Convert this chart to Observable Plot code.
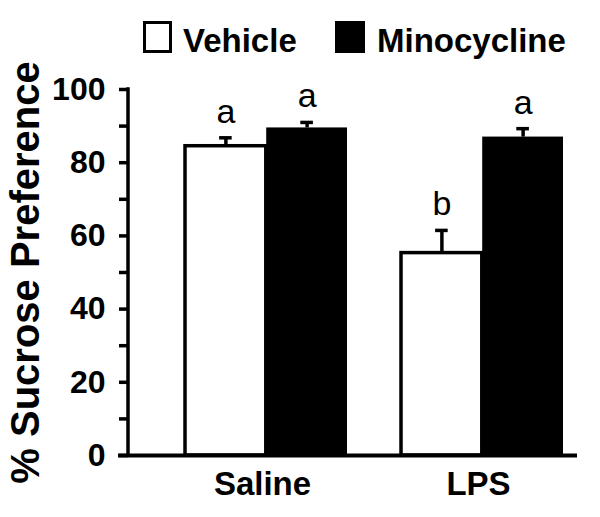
<!DOCTYPE html>
<html>
<head>
<meta charset="utf-8">
<script src="https://cdn.jsdelivr.net/npm/d3@7"></script>
<script src="https://cdn.jsdelivr.net/npm/@observablehq/plot@0.6"></script>
<style>
  html, body { margin: 0; padding: 0; background: white; }
  body { width: 600px; height: 517px; overflow: hidden; font-family: "Liberation Sans", Arial, sans-serif; }
  #legend { position: relative; width: 600px; height: 62px; }
  #legend .sw { position: absolute; box-sizing: border-box; border: 3.5px solid black; }
  #legend .lb { position: absolute; font-size: 33px; font-weight: bold; line-height: 33px; white-space: nowrap; color: black; }
  #chart svg { display: block; }
</style>
</head>
<body>
<div id="legend"></div>
<div id="chart"></div>
<script>
// ---- data ----
const groups = ["Saline", "LPS"];
const treatments = ["Vehicle", "Minocycline"];
const treatmentFill = ["white", "black"];
const vehicleMean = [84.5, 55.3];
const vehicleSem = [2.3, 6.2];
const minocyclineMean = [89.5, 87.0];
const minocyclineSem = [1.5, 2.3];
const vehicleLetters = ["a", "b"];
const minocyclineLetters = ["a", "a"];
const yTicks = [0, 10, 20, 30, 40, 50, 60, 70, 80, 90, 100];
const yTickLabels = ["0", "", "20", "", "40", "", "60", "", "80", "", "100"];
const yTitle = "% Sucrose Preference";

// ---- table built from the arrays ----
const rows = groups.flatMap((g, i) => [
  {group: g, treatment: treatments[0], mean: vehicleMean[i], sem: vehicleSem[i], letter: vehicleLetters[i]},
  {group: g, treatment: treatments[1], mean: minocyclineMean[i], sem: minocyclineSem[i], letter: minocyclineLetters[i]}
]);
const vehRows = rows.filter(d => d.treatment === treatments[0]);
const minRows = rows.filter(d => d.treatment === treatments[1]);

// ---- layout ----
const W = 600, H = 455;
const mL = 128, mR = 23, mT = 27, mB = 62;
const padIn = 0.25, padOut = 0.1617, alignX = 0.8;
const bw = d3.scaleBand(groups, [mL, W - mR]).paddingInner(padIn).paddingOuter(padOut).align(alignX).bandwidth();
const half = bw / 2, quarter = bw / 4;
const capHalf = 6.5;
const SW = 3.5;
const font = '"Liberation Sans", Arial, sans-serif';

// ---- legend (HTML above the svg) ----
const legendPos = [
  {swLeft: 143, swW: 29, lbLeft: 183},
  {swLeft: 335, swW: 30, lbLeft: 377}
];
const legend = document.getElementById("legend");
treatments.forEach((t, i) => {
  const sw = document.createElement("div");
  sw.className = "sw";
  sw.style.left = legendPos[i].swLeft + "px";
  sw.style.top = "21px";
  sw.style.width = legendPos[i].swW + "px";
  sw.style.height = "32px";
  sw.style.background = treatmentFill[i];
  legend.appendChild(sw);
  const lb = document.createElement("div");
  lb.className = "lb";
  lb.style.left = legendPos[i].lbLeft + "px";
  lb.style.top = "24px";
  lb.textContent = t;
  legend.appendChild(lb);
});

// y axis line drawn from the y scale at the frame's left edge
function yAxisLine(index, scales, values, dims) {
  return d3.create("svg:line")
    .attr("x1", dims.marginLeft).attr("x2", dims.marginLeft)
    .attr("y1", scales.y(yTicks[yTicks.length - 1])).attr("y2", scales.y(yTicks[0]))
    .attr("stroke", "black").attr("stroke-width", SW).attr("stroke-linecap", "square")
    .node();
}

const chart = Plot.plot({
  width: W,
  height: H,
  marginLeft: mL,
  marginRight: mR,
  marginTop: mT,
  marginBottom: mB,
  style: {fontFamily: font, background: "white", color: "black", overflow: "visible"},
  x: {domain: groups, paddingInner: padIn, paddingOuter: padOut, align: alignX, label: null},
  y: {domain: [0, 100], label: null},
  marks: [
    Plot.barY(vehRows, {x: "group", y: "mean", fill: treatmentFill[0], stroke: "black", strokeWidth: SW, insetRight: half}),
    Plot.barY(minRows, {x: "group", y: "mean", fill: treatmentFill[1], insetLeft: half}),
    // error bars (upper only)
    Plot.ruleX(vehRows, {x: "group", y1: "mean", y2: d => d.mean + d.sem, dx: -quarter, strokeWidth: SW}),
    Plot.ruleX(minRows, {x: "group", y1: "mean", y2: d => d.mean + d.sem, dx: quarter, strokeWidth: SW}),
    Plot.tickY(vehRows, {x: "group", y: d => d.mean + d.sem, dx: -quarter, insetLeft: half - capHalf, insetRight: half - capHalf, strokeWidth: SW}),
    Plot.tickY(minRows, {x: "group", y: d => d.mean + d.sem, dx: quarter, insetLeft: half - capHalf, insetRight: half - capHalf, strokeWidth: SW}),
    // significance letters
    Plot.text(vehRows, {x: "group", y: d => d.mean + d.sem, text: "letter", dx: -quarter, dy: -15, lineAnchor: "bottom", fontSize: 34, fontWeight: "normal", fill: "black"}),
    Plot.text(minRows, {x: "group", y: d => d.mean + d.sem, text: "letter", dx: quarter, dy: -15, lineAnchor: "bottom", fontSize: 34, fontWeight: "normal", fill: "black"}),
    // axes
    Plot.ruleY([0], {strokeWidth: SW + 0.5, insetLeft: -10}),
    yAxisLine,
    Plot.axisY({ticks: yTicks, tickFormat: d => yTickLabels[yTicks.indexOf(d)], tickSize: 9, tickPadding: 14, strokeWidth: SW, fontSize: 32, fontWeight: "bold", label: null}),
    Plot.axisX({tickSize: 0, tickPadding: 16, dx: -4, fontSize: 33, fontWeight: "bold", label: null}),
    Plot.text([yTitle], {frameAnchor: "left", textAnchor: "middle", rotate: -90, dx: -102, fontSize: 40, fontWeight: "bold", fill: "black"})
  ]
});
document.getElementById("chart").appendChild(chart);
</script>
</body>
</html>
